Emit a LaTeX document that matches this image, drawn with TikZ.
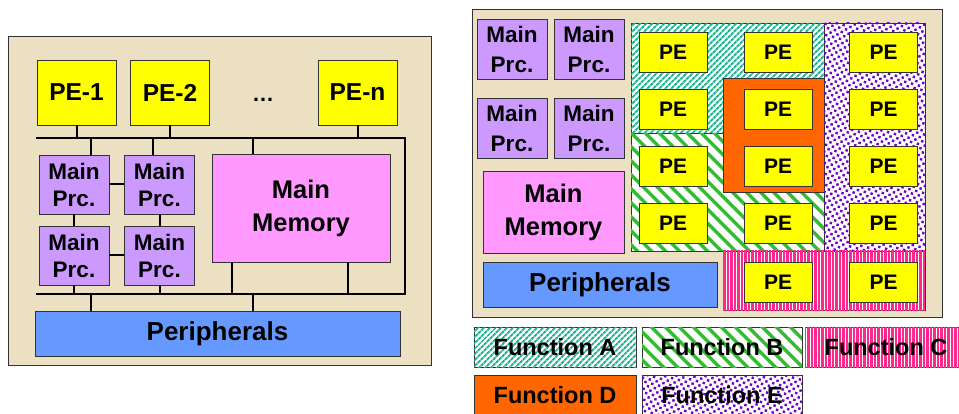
\documentclass[tikz,border=0pt]{standalone}
\usepackage{fontspec}
\setmainfont{Liberation Sans}
\usetikzlibrary{patterns.meta}

\definecolor{parch}{RGB}{236,224,194}
\definecolor{peyel}{RGB}{255,255,0}
\definecolor{prcvio}{RGB}{204,153,255}
\definecolor{mempink}{RGB}{255,153,255}
\definecolor{perblue}{RGB}{102,153,255}
\definecolor{fdorange}{RGB}{255,102,0}
\definecolor{fateal}{RGB}{20,180,140}
\definecolor{fbgreen}{RGB}{51,187,51}
\definecolor{fcpink}{RGB}{255,40,140}
\definecolor{fepurple}{RGB}{110,0,204}

\tikzset{
    box/.style={draw=black!80,line width=0.8pt,inner sep=0pt,align=center},
    bigpe/.style={box,fill=peyel,minimum width=79pt,minimum height=65pt,font=\fontsize{24.5}{29}\selectfont\bfseries},
    smallpe/.style={box,fill=peyel,minimum width=68pt,minimum height=40pt,font=\fontsize{21}{25}\selectfont\bfseries},
    mprc/.style={box,fill=prcvio,minimum width=70pt,minimum height=59pt,font=\fontsize{22.5}{27}\selectfont\bfseries},
    mem/.style={box,fill=mempink,font=\fontsize{25.5}{33}\selectfont\bfseries},
    periph/.style={box,fill=perblue,minimum height=45pt,font=\fontsize{26}{30}\selectfont\bfseries},
    legend/.style={box,minimum width=162pt,minimum height=40pt,font=\fontsize{23.5}{27}\selectfont\bfseries},
    panel/.style={draw=black!80,line width=0.8pt,fill=parch},
    bus/.style={line width=2.6pt},
    link/.style={line width=2pt},
    funa/.style={fill=white,postaction={pattern={Lines[angle=45,distance=4pt,line width=2pt]},pattern color=fateal}},
    funb/.style={fill=white,postaction={pattern={Lines[angle=-45,distance=10.5pt,line width=3.8pt]},pattern color=fbgreen}},
    func/.style={fill=white,postaction={pattern={Lines[angle=90,distance=3.5pt,line width=2.1pt]},pattern color=fcpink}},
    fund/.style={fill=fdorange},
    fune/.style={fill=white,postaction={pattern={Dots[radius=1.7pt,distance=5pt,angle=30]},pattern color=fepurple}},
}

\begin{document}
\begin{tikzpicture}[x=1pt,y=-1pt]
    \useasboundingbox (0,0) rectangle (959,414);

    % shared bus
    \draw[panel] (8,36) rectangle (431,365);

    \node[bigpe] (pe1) at (76.5,92.5) {PE-1};
    \node[bigpe] (pe2) at (170,92.5) {PE-2};
    \node[bigpe] (pen) at (357.5,92.5) {PE-n};
    \node[anchor=base,inner sep=0pt,font=\fontsize{22}{26}\selectfont\bfseries] (dots) at (263,102) {\dots};

    \node[mprc] (mp1) at (74,184.5) {Main\\Prc.};
    \node[mprc] (mp2) at (159.5,184.5) {Main\\Prc.};
    \node[mprc] (mp3) at (74,255.5) {Main\\Prc.};
    \node[mprc] (mp4) at (159.5,255.5) {Main\\Prc.};
    \node[mem,minimum width=178pt,minimum height=108pt] (mm) at (301,208) {Main\\Memory};
    \node[periph,minimum width=365pt] (per) at (217.5,333.5) {Peripherals};

    \coordinate (btl) at (36,138);
    \coordinate (btr) at (405,138);
    \coordinate (bbr) at (405,294);
    \coordinate (bbl) at (36,294);
    \draw[bus] (btl) -- (btr) -- (bbr) -- (bbl);

    \foreach \n in {pe1,pe2,pen}
        \draw[link] (\n.south) -- (\n.south |- btl);
    \draw[link] ([xshift=17pt]mp1.north) -- ([xshift=17pt]mp1.north |- btl);
    \draw[link] ([xshift=-6.5pt]mp2.north) -- ([xshift=-6.5pt]mp2.north |- btl);
    \draw[link] ([xshift=-48pt]mm.north) -- ([xshift=-48pt]mm.north |- btl);
    \draw[link] (mp1.east) -- (mp2.west);
    \draw[link] (mp3.east) -- (mp4.west);
    \draw[link] (mp1.south) -- (mp3.north);
    \draw[link] (mp2.south) -- (mp4.north);
    \draw[link] (mp3.south) -- (mp3.south |- bbl);
    \draw[link] (mp4.south) -- (mp4.south |- bbl);
    \draw[link] ([xshift=-69pt]mm.south) -- ([xshift=-69pt]mm.south |- bbl);
    \draw[link] ([xshift=47pt]mm.south) -- ([xshift=47pt]mm.south |- bbl);
    \draw[link] ([xshift=-126.5pt]per.north) -- ([xshift=-126.5pt]per.north |- bbl);
    \draw[link] ([xshift=35.5pt]per.north) -- ([xshift=35.5pt]per.north |- bbl);

    % partitioned fabric
    \draw[panel] (472,9) rectangle (942,317);

    \begin{scope}[mprc/.append style={font=\fontsize{22.5}{30}\selectfont\bfseries,minimum height=60pt}]
        \node[mprc] (rmp1) at (512,49) {Main\\Prc.};
        \node[mprc] (rmp2) at (589,49) {Main\\Prc.};
        \node[mprc] (rmp3) at (512,128) {Main\\Prc.};
        \node[mprc] (rmp4) at (589,128) {Main\\Prc.};
    \end{scope}
    \node[mem,minimum width=141pt,minimum height=82pt] (rmm) at (553.5,212) {Main\\Memory};
    \node[periph,minimum width=234pt] (rper) at (600,284.5) {Peripherals};

    \draw[box,funa] (631,23) -- (824,23) -- (824,78) -- (723,78) -- (723,133) -- (631,133) -- cycle;
    \draw[box,funb] (631,133) -- (723,133) -- (723,192) -- (824,192) -- (824,251) -- (631,251) -- cycle;
    \draw[box,fund] (723,78) rectangle (824,192);
    \draw[box,fune] (824,23) rectangle (925,251);
    \draw[box,func] (723,251) rectangle (925,310);

    \foreach \r/\y in {1/52,2/109,3/166,4/223.5}
        \foreach \c/\x in {1/673,2/778,3/883.5}
            \node[smallpe] (pe-\r-\c) at (\x,\y) {PE};
    \foreach \c/\x in {2/778,3/883.5}
        \node[smallpe] (pe-5-\c) at (\x,282) {PE};

    % legend
    \node[legend,funa] (keya) at (555,347) {Function A};
    \node[legend,funb,minimum width=160pt] (keyb) at (722,347) {Function B};
    \node[legend,func] (keyc) at (886,347) {Function C};
    \node[legend,fund] (keyd) at (555,395) {Function D};
    \node[legend,fune,minimum width=160pt] (keye) at (722,395) {Function E};
\end{tikzpicture}
\end{document}
